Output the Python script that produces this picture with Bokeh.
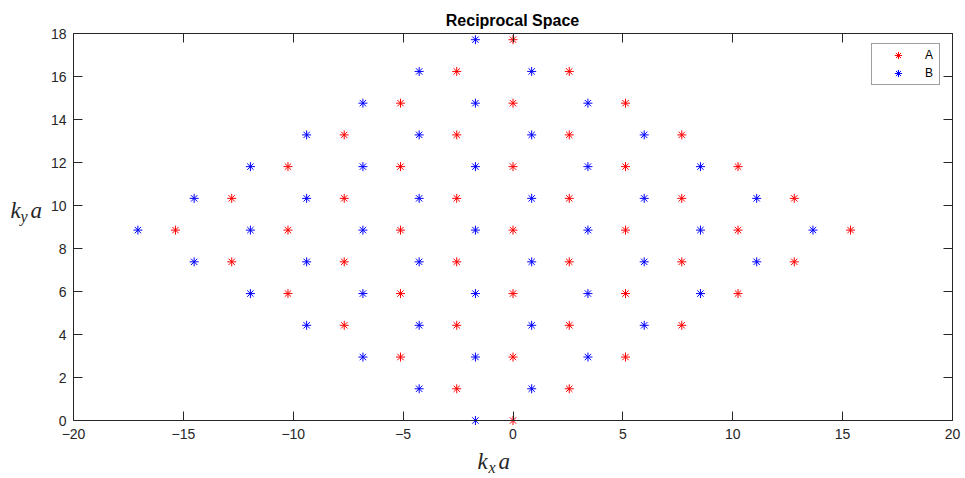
from bokeh.plotting import figure
from bokeh.models import Range1d, LinearAxis, FixedTicker, Label
from bokeh.embed import file_html
from bokeh.resources import INLINE

# Reciprocal lattice sites of the two sublattices (k_x a, k_y a)
a_kx = [0.0,
        -2.56, 2.56,
        -5.12, 0.0, 5.12,
        -7.68, -2.56, 2.56, 7.68,
        -10.24, -5.12, 0.0, 5.12, 10.24,
        -12.80, -7.68, -2.56, 2.56, 7.68, 12.80,
        -15.36, -10.24, -5.12, 0.0, 5.12, 10.24, 15.36,
        -12.80, -7.68, -2.56, 2.56, 7.68, 12.80,
        -10.24, -5.12, 0.0, 5.12, 10.24,
        -7.68, -2.56, 2.56, 7.68,
        -5.12, 0.0, 5.12,
        -2.56, 2.56,
        0.0]
a_ky = [0.0,
        1.476, 1.476,
        2.952, 2.952, 2.952,
        4.428, 4.428, 4.428, 4.428,
        5.904, 5.904, 5.904, 5.904, 5.904,
        7.380, 7.380, 7.380, 7.380, 7.380, 7.380,
        8.856, 8.856, 8.856, 8.856, 8.856, 8.856, 8.856,
        10.332, 10.332, 10.332, 10.332, 10.332, 10.332,
        11.808, 11.808, 11.808, 11.808, 11.808,
        13.284, 13.284, 13.284, 13.284,
        14.760, 14.760, 14.760,
        16.236, 16.236,
        17.712]

b_kx = [-1.71,
        -4.27, 0.85,
        -6.83, -1.71, 3.41,
        -9.39, -4.27, 0.85, 5.97,
        -11.95, -6.83, -1.71, 3.41, 8.53,
        -14.51, -9.39, -4.27, 0.85, 5.97, 11.09,
        -17.07, -11.95, -6.83, -1.71, 3.41, 8.53, 13.65,
        -14.51, -9.39, -4.27, 0.85, 5.97, 11.09,
        -11.95, -6.83, -1.71, 3.41, 8.53,
        -9.39, -4.27, 0.85, 5.97,
        -6.83, -1.71, 3.41,
        -4.27, 0.85,
        -1.71]
b_ky = list(a_ky)

x_ticks = [-20, -15, -10, -5, 0, 5, 10, 15, 20]
y_ticks = [0, 2, 4, 6, 8, 10, 12, 14, 16, 18]

W, H = 965, 478
BL, BR, BT, BB = 73, 952, 33, 420   # pixel edges of the axes box
X0, X1, Y0, Y1 = -20, 20, 0, 18

# The plotting frame fills the whole canvas; the axes box is drawn inside it
sx_per = (BR - BL) / (X1 - X0)
sy_per = (BB - BT) / (Y1 - Y0)
x_range = Range1d(X0 - BL / sx_per, X1 + (W - BR) / sx_per)
y_range = Range1d(Y0 - (H - BB) / sy_per, Y1 + BT / sy_per)

p = figure(width=W, height=H, output_backend="svg", toolbar_location=None,
           x_range=x_range, y_range=y_range,
           x_axis_location=None, y_axis_location=None, min_border=0)
p.background_fill_color = "white"
p.border_fill_color = "white"
p.outline_line_color = None
p.grid.visible = False


def make_axis(loc, bounds, ticks, labels):
    ax = LinearAxis(fixed_location=loc, bounds=bounds, ticker=FixedTicker(ticks=ticks))
    ax.axis_line_color = "#262626"
    ax.major_tick_line_color = "#262626"
    ax.major_tick_in = 9
    ax.major_tick_out = 0
    ax.minor_tick_line_color = None
    ax.major_label_text_font = "Liberation Sans"
    if labels:
        ax.major_label_text_color = "#262626"
        ax.major_label_text_font_size = "14px"
    else:
        ax.major_label_text_color = None
        ax.major_label_text_font_size = "1px"
    return ax


bottom = make_axis(Y0, (X0, X1), x_ticks, True)
bottom.major_label_standoff = 8
left = make_axis(X0, (Y0, Y1), y_ticks, True)
left.major_label_standoff = 7
p.add_layout(bottom, "below")
p.add_layout(left, "left")
p.add_layout(make_axis(Y1, (X0, X1), x_ticks, False), "above")
p.add_layout(make_axis(X1, (Y0, Y1), y_ticks, False), "right")

p.scatter(a_kx, a_ky, marker="asterisk", size=9, line_color="#ff0000",
          fill_color=None, line_width=1, legend_label="A")
p.scatter(b_kx, b_ky, marker="asterisk", size=9, line_color="#0000ff",
          fill_color=None, line_width=1, legend_label="B")

lg = p.legend[0]
lg.location = (871, H - 85)
lg.border_line_color = "#404040"
lg.border_line_width = 1
lg.background_fill_color = "white"
lg.padding = 2
lg.spacing = 0
lg.margin = 0
lg.glyph_width = 48
lg.glyph_height = 18
lg.label_standoff = 3
lg.label_width = 12
lg.label_text_font = "Liberation Sans"
lg.label_text_font_size = "12px"
lg.label_text_color = "black"


def screen_label(sx, sy, txt, **kw):
    # sx, sy: pixel position from the top-left corner of the canvas
    p.add_layout(Label(x=sx, y=H - sy, x_units="screen", y_units="screen",
                       text=txt, text_baseline="bottom", **kw))


screen_label(512, 28, "Reciprocal Space", text_align="center",
             text_font="Liberation Sans", text_font_style="bold",
             text_font_size="16px", text_color="black")

math = dict(text_align="left", text_font="Liberation Serif",
            text_font_style="italic", text_color="#262626")
# k_x a under the x axis
screen_label(477, 473, "k", text_font_size="23px", **math)
screen_label(488, 475, "x", text_font_size="16px", **math)
screen_label(498, 473, "a", text_font_size="23px", **math)
# k_y a left of the y axis
screen_label(10, 222, "k", text_font_size="23px", **math)
screen_label(20, 224, "y", text_font_size="16px", **math)
screen_label(30, 222, "a", text_font_size="23px", **math)

open("out.html", "w").write(file_html(p, INLINE))
